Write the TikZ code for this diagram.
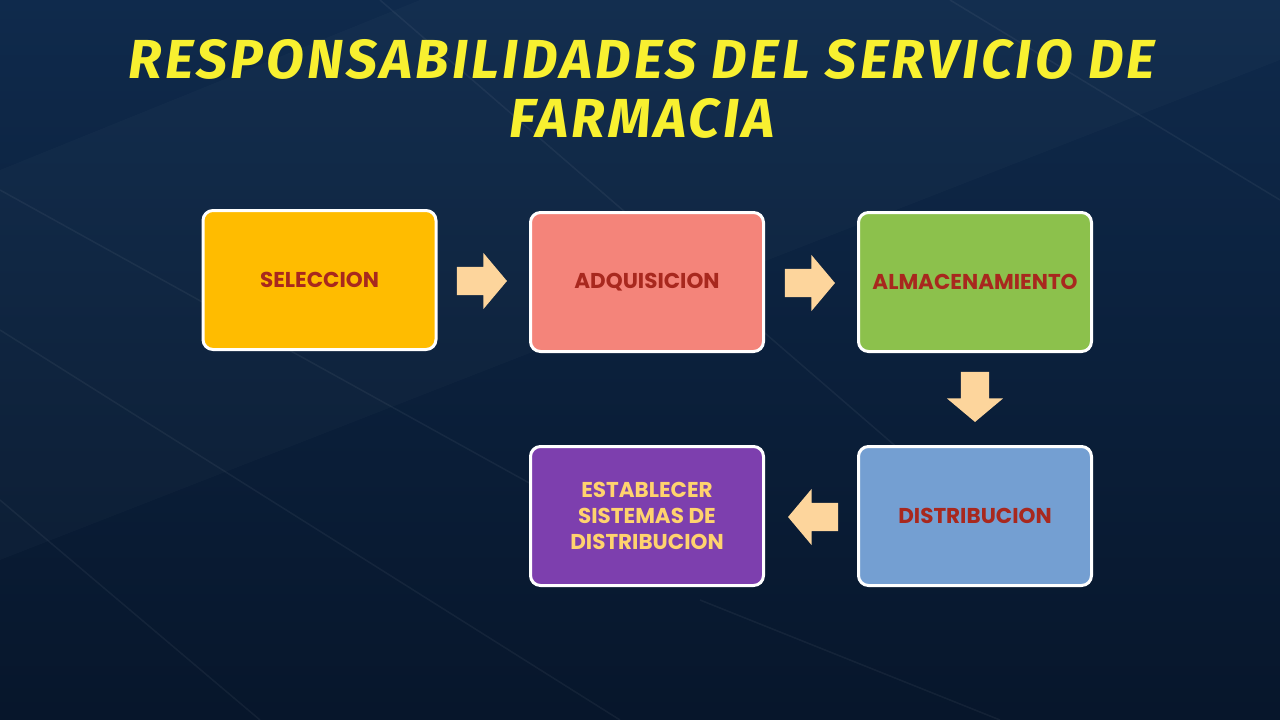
\documentclass[tikz,border=0pt]{standalone}
\usepackage{fontspec}
\setmainfont{Poppins}
\newfontfamily\titlefont[LetterSpace=6]{Fira Sans}
\usetikzlibrary{shapes.arrows,shadings}
\definecolor{bgtop}{HTML}{0F2A4C}
\definecolor{bgbot}{HTML}{07162B}
\definecolor{ttl}{HTML}{F8F030}
\definecolor{arr}{HTML}{FDD59C}
\definecolor{fSel}{HTML}{FFBC00}
\definecolor{fAdq}{HTML}{F4847A}
\definecolor{fAlm}{HTML}{8CC14C}
\definecolor{fDis}{HTML}{749FD2}
\definecolor{fEst}{HTML}{7D3FAE}
\definecolor{tRed}{HTML}{A8281E}
\definecolor{tYel}{HTML}{FFD36E}
\tikzset{
  stepbox/.style={draw=white, line width=3pt, rounded corners=10pt,
    minimum width=233pt, minimum height=139pt, align=center,
    font=\fontsize{21.5}{26}\selectfont\bfseries, text=tRed},
  blockarrow/.style={single arrow, fill=arr, draw=none, minimum height=50pt,
    inner sep=14pt, single arrow head extend=14pt, single arrow tip angle=100,
    single arrow head indent=0pt},
  ttext/.style={font=\titlefont\fontsize{55}{60}\selectfont\bfseries\itshape, text=ttl},
  streak/.style={white, opacity=0.05, line width=1.5pt}
}
\begin{document}
\begin{tikzpicture}[x=1pt,y=-1pt]
\useasboundingbox (0,0) rectangle (1280,720);
\shade[top color=bgtop, bottom color=bgbot] (0,0) rectangle (1280,720);
\fill[white, opacity=0.02] (0,170) -- (420,0) -- (1280,0) -- (1280,60) -- (0,560) -- cycle;
\draw[streak] (380,0) -- (900,450);
\draw[streak] (0,190) -- (560,500);
\draw[streak] (0,330) -- (620,720);
\draw[streak] (0,500) -- (260,720);
\draw[streak] (950,0) -- (1280,200);
\draw[streak] (700,600) -- (1000,720);
% title
\node[ttext] (t1) at (642,59) {RESPONSABILIDADES DEL SERVICIO DE};
\node[ttext] (t2) at (642,118) {FARMACIA};
% boxes
\node[stepbox, fill=fSel] (sel) at (319.5,280) {SELECCION};
\node[stepbox, fill=fAdq] (adq) at (647,282) {ADQUISICION};
\node[stepbox, fill=fAlm] (alm) at (975,282) {ALMACENAMIENTO};
\node[stepbox, fill=fDis] (dis) at (975,516) {DISTRIBUCION};
\node[stepbox, fill=fEst, text=tYel] (est) at (647,516) {ESTABLECER\\SISTEMAS DE\\DISTRIBUCION};
% arrows
\node[blockarrow] (a1) at (476,281) {};
\node[blockarrow] (a2) at (804,283) {};
\node[blockarrow, shape border rotate=270] (a3) at (975,391) {};
\node[blockarrow, shape border rotate=180] (a4) at (819,517) {};
\end{tikzpicture}
\end{document}
